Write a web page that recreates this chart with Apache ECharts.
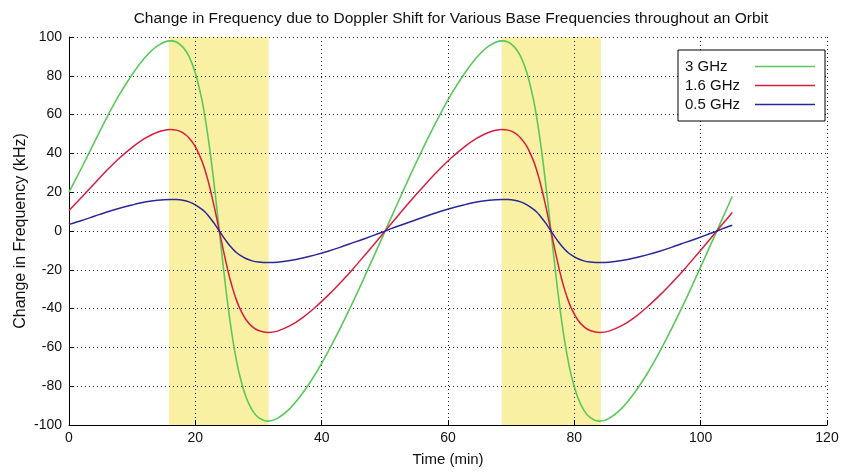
<!DOCTYPE html>
<html>
<head>
<meta charset="utf-8">
<script src="https://cdn.jsdelivr.net/npm/echarts@6/dist/echarts.min.js"></script>
<style>
  html, body { margin: 0; padding: 0; background: #fff; }
</style>
</head>
<body>
<div id="chart" style="width: 844px; height: 472px;"></div>
<script>
// time axis (min)
var timeMin = [0, 2, 4, 6, 8, 10, 12, 14, 16, 17, 18, 19, 20, 21, 21.5, 22, 22.5, 23, 23.5, 24, 24.5, 25, 25.5, 26, 26.5, 27, 28, 29, 30, 31.5, 33, 35, 37, 39, 41, 43, 45, 47, 49, 50, 51,
    52.5, 54.5, 56.5, 58.5, 60.5, 62.5, 64.5, 66.5, 68.5, 69.5, 70.5, 71.5, 72.5, 73.5, 74, 74.5, 75, 75.5, 76, 76.5, 77, 77.5, 78, 78.5, 79, 79.5, 80.5, 81.5, 82.5, 84, 85.5, 87.5, 89.5, 91.5, 93.5, 95.5, 97.5, 99.5, 101.5, 102.5, 103.5, 105];

// change in frequency (kHz)
var ghz3 = [20.0, 32.6, 45.7, 58.6, 70.4, 80.7, 89.3, 95.4, 98.0, 97.4, 94.9, 90.0, 81.4, 68.2, 59.3, 48.8, 36.8, 23.3, 8.9, -5.9, -20.5, -34.2, -46.6, -57.4, -66.6, -74.2, -85.4, -92.3, -96.2, -98.0, -96.6, -91.4, -83.5, -73.7, -62.3, -49.7, -36.3, -22.1, -7.7, -0.4, 6.9,
    17.8, 32.1, 45.7, 58.6, 70.4, 80.7, 89.3, 95.4, 98.0, 97.4, 94.9, 90.0, 81.4, 68.2, 59.3, 48.8, 36.8, 23.3, 8.9, -5.9, -20.5, -34.2, -46.6, -57.4, -66.6, -74.2, -85.4, -92.3, -96.2, -98.0, -96.6, -91.4, -83.5, -73.7, -62.3, -49.7, -36.3, -22.1, -7.7, -0.4, 6.9, 17.8];
var ghz16 = [10.6, 17.4, 24.4, 31.3, 37.6, 43.1, 47.7, 50.9, 52.3, 52.0, 50.7, 48.0, 43.5, 36.4, 31.7, 26.1, 19.6, 12.4, 4.7, -3.2, -10.9, -18.2, -24.9, -30.6, -35.5, -39.6, -45.6, -49.3, -51.3, -52.3, -51.6, -48.8, -44.6, -39.3, -33.2, -26.5, -19.4, -11.8, -4.1, -0.2, 3.7,
    9.5, 17.1, 24.4, 31.3, 37.6, 43.1, 47.7, 50.9, 52.3, 52.0, 50.7, 48.0, 43.5, 36.4, 31.7, 26.1, 19.6, 12.4, 4.7, -3.2, -10.9, -18.2, -24.9, -30.6, -35.5, -39.6, -45.6, -49.3, -51.3, -52.3, -51.6, -48.8, -44.6, -39.3, -33.2, -26.5, -19.4, -11.8, -4.1, -0.2, 3.7, 9.5];
var ghz05 = [3.4, 5.4, 7.6, 9.8, 11.7, 13.4, 14.9, 15.9, 16.3, 16.2, 15.8, 15.0, 13.5, 11.3, 9.9, 8.1, 6.1, 3.9, 1.5, -1.0, -3.4, -5.7, -7.7, -9.5, -11.1, -12.3, -14.2, -15.4, -16.0, -16.3, -16.1, -15.2, -13.9, -12.3, -10.4, -8.3, -6.0, -3.7, -1.3, -0.1, 1.2,
    3.0, 5.3, 7.6, 9.8, 11.7, 13.4, 14.9, 15.9, 16.3, 16.2, 15.8, 15.0, 13.5, 11.3, 9.9, 8.1, 6.1, 3.9, 1.5, -1.0, -3.4, -5.7, -7.7, -9.5, -11.1, -12.3, -14.2, -15.4, -16.0, -16.3, -16.1, -15.2, -13.9, -12.3, -10.4, -8.3, -6.0, -3.7, -1.3, -0.1, 1.2, 3.0];

var seriesNames = ['3 GHz', '1.6 GHz', '0.5 GHz'];
// shaded passes (min)
var passStart = [15.8, 68.5];
var passEnd = [31.6, 84.2];

var myChart = echarts.init(document.getElementById('chart'));

function pairs(vals) {
    return timeMin.map(function (t, i) { return [t, vals[i]]; });
}

var font = "'Liberation Sans', Arial, sans-serif";
var dotted = { color: '#222', width: 1, type: [1, 3] };

var option = {
    animation: false,
    backgroundColor: '#fff',
    title: {
        text: 'Change in Frequency due to Doppler Shift for Various Base Frequencies throughout an Orbit',
        left: 446,
        textAlign: 'center',
        top: 6,
        textStyle: {
            fontFamily: font,
            fontSize: 15.5,
            fontWeight: 'normal',
            color: '#111'
        }
    },
    legend: {
        data: seriesNames,
        orient: 'vertical',
        left: 678,
        top: 50,
        align: 'right',
        icon: 'rect',
        itemWidth: 60,
        itemHeight: 1.5,
        itemGap: 4,
        padding: [9, 10, 9, 7],
        backgroundColor: '#fff',
        borderColor: '#000',
        borderWidth: 1,
        z: 10,
        formatter: function (name) { return '{t|' + name + '}'; },
        textStyle: {
            fontFamily: font,
            fontSize: 15,
            color: '#111',
            rich: {
                t: { width: 65, align: 'left', fontSize: 15, color: '#111' }
            }
        }
    },
    grid: {
        left: 69,
        right: 17,
        top: 37,
        bottom: 47
    },
    xAxis: {
        type: 'value',
        min: 0,
        max: 120,
        interval: 20,
        z: 3,
        name: 'Time (min)',
        nameLocation: 'middle',
        nameGap: 27,
        nameTextStyle: {
            fontFamily: font,
            fontSize: 15,
            color: '#111'
        },
        axisLine: { onZero: false, lineStyle: { color: '#000', width: 1 } },
        axisTick: { inside: true, length: 5, lineStyle: { color: '#000' } },
        axisLabel: {
            margin: 6,
            fontFamily: font,
            fontSize: 14,
            color: '#111'
        },
        splitLine: { show: true, lineStyle: dotted }
    },
    yAxis: {
        type: 'value',
        min: -100,
        max: 100,
        interval: 20,
        z: 3,
        name: 'Change in Frequency (kHz)',
        nameLocation: 'middle',
        nameGap: 40,
        nameMoveOverlap: false,
        nameTextStyle: {
            fontFamily: font,
            fontSize: 16,
            color: '#111'
        },
        axisLine: { show: true, onZero: false, lineStyle: { color: '#000', width: 1 } },
        axisTick: { show: true, inside: true, length: 5, lineStyle: { color: '#000' } },
        axisLabel: {
            margin: 7,
            fontFamily: font,
            fontSize: 14,
            color: '#111'
        },
        splitLine: { show: true, lineStyle: dotted }
    },
    series: [
        {
            name: seriesNames[0],
            type: 'line',
            showSymbol: false,
            smooth: 0.3,
            lineStyle: { color: '#5cc85c', width: 1.6 },
            itemStyle: { color: '#5cc85c' },
            data: pairs(ghz3),
            markArea: {
                silent: true,
                itemStyle: { color: '#f9f0a4' },
                data: passStart.map(function (s, i) {
                    return [{ xAxis: s }, { xAxis: passEnd[i] }];
                })
            }
        },
        {
            name: seriesNames[1],
            type: 'line',
            showSymbol: false,
            smooth: 0.3,
            lineStyle: { color: '#d81e3c', width: 1.5 },
            itemStyle: { color: '#d81e3c' },
            data: pairs(ghz16)
        },
        {
            name: seriesNames[2],
            type: 'line',
            showSymbol: false,
            smooth: 0.3,
            lineStyle: { color: '#28289a', width: 1.5 },
            itemStyle: { color: '#28289a' },
            data: pairs(ghz05)
        }
    ]
};

myChart.setOption(option);
</script>
</body>
</html>
